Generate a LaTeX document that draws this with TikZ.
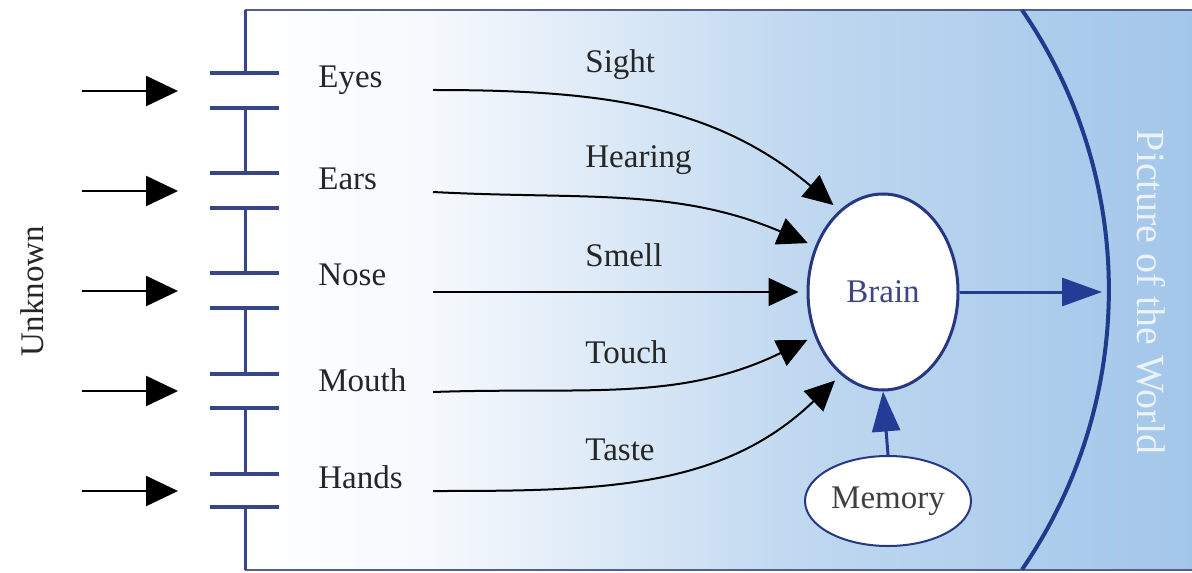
\documentclass[tikz,border=0pt]{standalone}
\usepackage{fontspec}
\setmainfont{Liberation Serif}
\usetikzlibrary{arrows.meta,shapes.geometric}
\definecolor{boxline}{RGB}{85,95,140}
\definecolor{gate}{RGB}{55,70,135}
\definecolor{arcblue}{RGB}{30,60,140}
\definecolor{arrowblue}{RGB}{35,60,150}
\definecolor{brainedge}{RGB}{40,55,130}
\definecolor{braintext}{RGB}{60,70,130}
\definecolor{bgA}{RGB}{246,249,253}
\definecolor{bgB}{RGB}{192,216,240}
\definecolor{bgC}{RGB}{162,198,234}
\definecolor{worldtext}{RGB}{235,242,250}
\begin{document}
\begin{tikzpicture}[x=0.5pt,y=-0.5pt,
  lbl/.style={inner sep=0pt,anchor=base west,font=\fontsize{16.5}{19}\selectfont,text=black!85},
  gatebar/.style={draw=gate,line width=2pt},
  wall/.style={draw=gate,line width=1.5pt},
  boxl/.style={draw=boxline,line width=1.2pt},
  inarrow/.style={draw=black,line width=1.1pt,-{Triangle[length=16pt,width=15pt]}},
  sense/.style={draw=black,line width=1pt,-{Triangle[length=15pt,width=14pt]},shorten >=4pt},
  bluearrow/.style={draw=arrowblue,line width=1.5pt,-{Triangle[length=20pt,width=14pt]}},
  oval/.style={ellipse,draw=brainedge,fill=white,inner sep=0pt}
]
\useasboundingbox (0,0) rectangle (1192,572);
\fill[white] (0,0) rectangle (1192,572);
% background gradient
\shade[left color=white,right color=bgA] (245,10) rectangle (431,570);
\shade[left color=bgA,right color=bgB] (430,10) rectangle (801,570);
\shade[left color=bgB,right color=bgC] (800,10) rectangle (1192,570);
% box border
\draw[boxl] (245,10) -- (1192,10);
\draw[boxl] (245,570) -- (1192,570);
% left wall with gates
\draw[wall] (245,10) -- (245,73);
\draw[wall] (245,108) -- (245,173);
\draw[wall] (245,208) -- (245,273);
\draw[wall] (245,308) -- (245,374);
\draw[wall] (245,408) -- (245,474);
\draw[wall] (245,507) -- (245,570);
\foreach \a/\b in {73/108,173/208,273/308,374/408,474/507}{
  \draw[gatebar] (210,\a) -- (279,\a);
  \draw[gatebar] (210,\b) -- (279,\b);
}
% incoming arrows
\foreach \i/\y in {1/91,2/191,3/291,4/391,5/491}{
  \coordinate (u\i) at (82,\y);
  \coordinate (g\i) at (178,\y);
  \draw[inarrow] (u\i) -- (g\i);
}
\node[rotate=90,inner sep=0pt,font=\fontsize{16.5}{19}\selectfont,text=black!85] (unknown) at (32,291) {Unknown};
% organ labels
\node[lbl] (eyes) at (318,88) {Eyes};
\node[lbl] (ears) at (318,190) {Ears};
\node[lbl] (nose) at (318,285) {Nose};
\node[lbl] (mouth) at (318,391) {Mouth};
\node[lbl] (hands) at (318,488) {Hands};
% sense labels
\node[lbl] (sight) at (585,73) {Sight};
\node[lbl] (hearing) at (585,168) {Hearing};
\node[lbl] (smell) at (585,266) {Smell};
\node[lbl] (touch) at (585,363) {Touch};
\node[lbl] (taste) at (585,460) {Taste};
% brain and memory
\node[oval,line width=1.5pt,minimum width=75pt,minimum height=98pt,
      font=\fontsize{16.5}{19}\selectfont,text=braintext] (brain) at (883,292) {Brain};
\node[oval,line width=1pt,minimum width=83pt,minimum height=45pt,
      font=\fontsize{16.5}{19}\selectfont,text=black!75] (memory) at (888,501) {Memory};
% start points of sense connectors
\coordinate (s1) at (433,90);
\coordinate (s2) at (433,192);
\coordinate (s3) at (433,292);
\coordinate (s4) at (433,392);
\coordinate (s5) at (433,491);
\draw[sense] (s1) to[out=0,in=140] (brain.118);
\draw[sense] (s2) to[out=-3,in=157] (brain.146);
\draw[sense] (s3) -- (brain.west);
\draw[sense] (s4) to[out=2,in=206] (brain.213);
\draw[sense] (s5) to[out=0,in=224] (brain.243);
% memory to brain
\draw[bluearrow] (memory.north) -- (brain.south);
% world arc
\coordinate (arctop) at (1022,10);
\draw[draw=arcblue,line width=2pt] (arctop) arc[start angle=-34.5,end angle=34.5,radius=494];
\coordinate (world) at (1102,292);
\draw[bluearrow] (brain.east) -- (world);
\node[rotate=-90,inner sep=0pt,font=\fontsize{20}{24}\selectfont,text=worldtext] (picture) at (1151,292) {Picture of the World};
\end{tikzpicture}
\end{document}
